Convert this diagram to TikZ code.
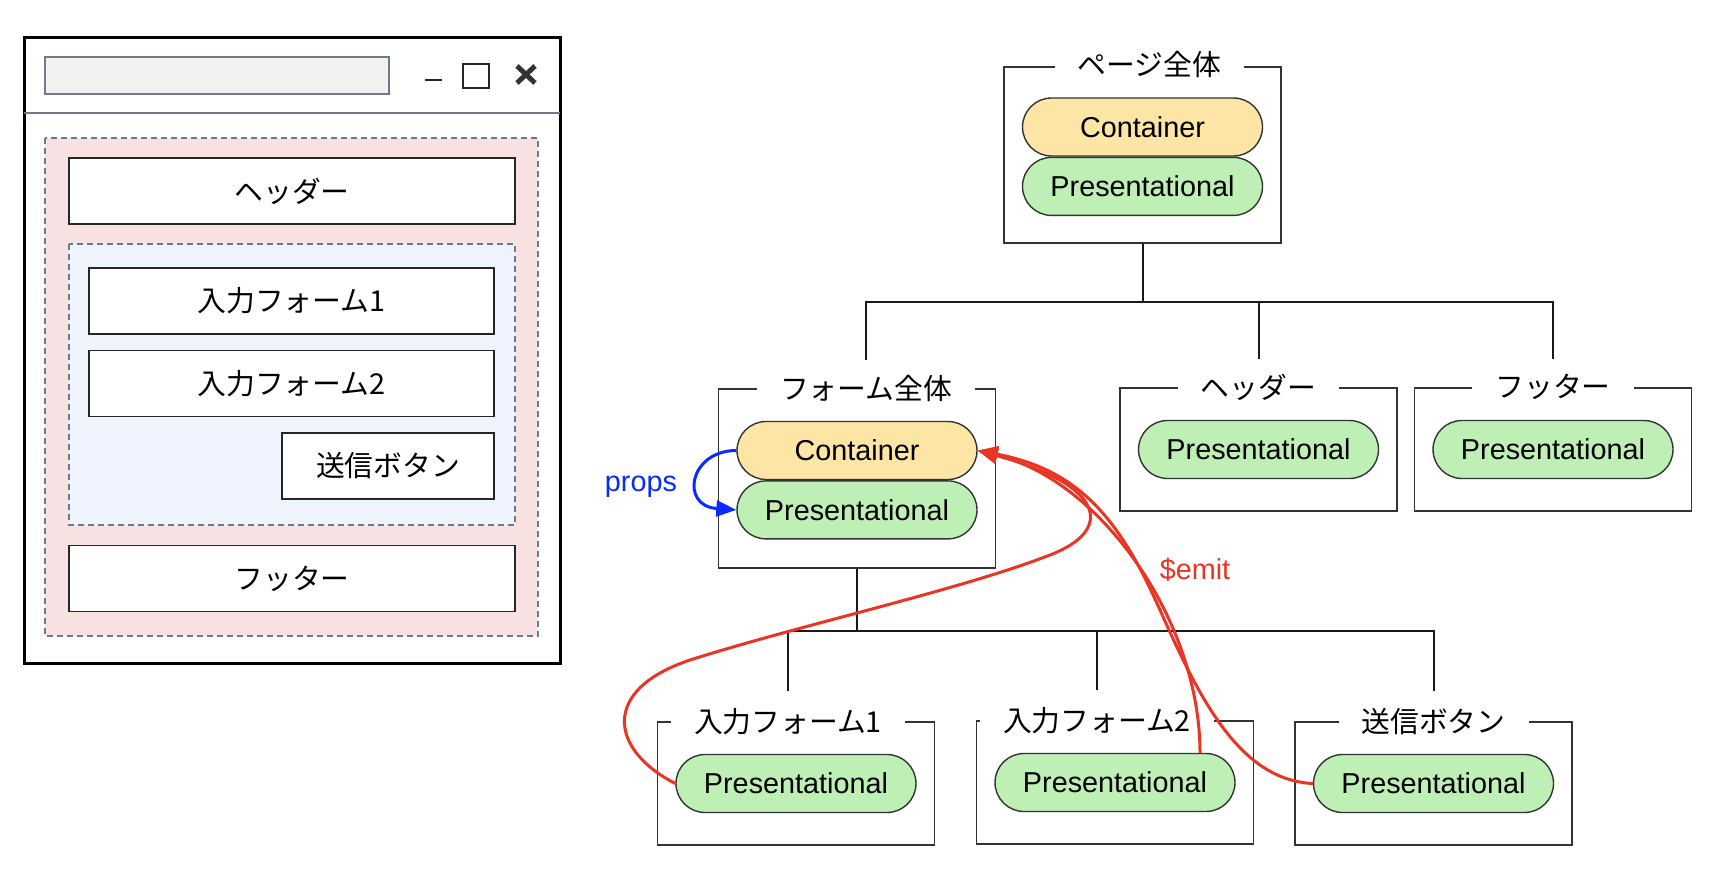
\documentclass[tikz,border=0pt]{standalone}
\usepackage{fontspec}
\setmainfont{Liberation Sans}
\newfontfamily\jp{Noto Sans CJK JP}
\usetikzlibrary{positioning,shapes.misc,arrows.meta}
\definecolor{contfill}{HTML}{FCE5A5}
\definecolor{presfill}{HTML}{BEF0B5}
\definecolor{pinkbg}{HTML}{F8E1E1}
\definecolor{bluebg}{HTML}{EEF3FD}
\definecolor{dashgray}{HTML}{6C7A89}
\definecolor{titlefill}{HTML}{F2F2F2}
\definecolor{emitred}{HTML}{EA3424}
\definecolor{propsblue}{HTML}{0A2BFF}
\begin{document}
\begin{tikzpicture}[x=0.5pt,y=-0.5pt,
    font=\fontsize{14.4}{17}\selectfont,
    grp/.style={draw=black!80, line width=0.7pt, minimum width=138.5pt, minimum height=61.5pt, inner sep=0pt},
    grplbl/.style={fill=white, inner xsep=11.5pt, inner ysep=1pt, font=\fontsize{14.4}{17}\selectfont\jp},
    pill/.style={rounded rectangle, draw=black!80, line width=0.7pt, minimum width=120pt, minimum height=29pt, inner sep=0pt},
    cont/.style={pill, fill=contfill},
    pres/.style={pill, fill=presfill},
    winbox/.style={draw=black!85, line width=0.8pt, fill=white, minimum height=33pt, inner sep=0pt, font=\fontsize{14.4}{17}\selectfont\jp},
    area/.style={draw=dashgray, dash pattern=on 3pt off 2pt, line width=0.7pt},
    tree/.style={line width=1pt, black!90},
    emit/.style={line width=1.5pt, emitred, -{Triangle[length=10pt,width=8pt]}},
    props/.style={line width=1.5pt, propsblue, -{Triangle[length=10pt,width=8pt]}}]

    \useasboundingbox (0,0) rectangle (1718,888);

    %window
    \draw[line width=1.5pt] (24,38) rectangle (560,663);
    \draw[dashgray, line width=0.7pt] (24,113) -- (560,113);
    \draw[draw=dashgray, fill=titlefill, line width=0.8pt] (45,57) rectangle (389,94);
    \draw[line width=1.4pt, black!85] (425,80) -- (442,80);
    \draw[line width=0.8pt, black!85] (463,64) rectangle (489,88);
    \draw[line width=2.5pt, black!80] (517,66) -- (535,83) (517,83) -- (535,66);
    \draw[area, fill=pinkbg] (45,138) rectangle (538,636);
    \draw[area, fill=bluebg] (69,244) rectangle (515,525);
    \node[winbox, minimum width=223pt] (wheader) at (292,191) {ヘッダー};
    \node[winbox, minimum width=202.5pt] (wform1) at (291.5,301) {入力フォーム1};
    \node[winbox, minimum width=202.5pt] (wform2) at (291.5,383.5) {入力フォーム2};
    \node[winbox, minimum width=106pt] (wsubmit) at (388,466) {送信ボタン};
    \node[winbox, minimum width=223pt] (wfooter) at (292,578.5) {フッター};

    %groups
    \node[grp, minimum height=88pt] (page) at (1142.5,155) {};
    \node[grp, minimum height=89.5pt] (formall) at (857,478.5) {};
    \node[grp] (header) at (1258.5,449.5) {};
    \node[grp] (footer) at (1553,449.5) {};
    \node[grp] (form1) at (796,783.5) {};
    \node[grp] (form2) at (1115,782.5) {};
    \node[grp] (submit) at (1433.5,783.5) {};

    \node[grplbl] (pagel) at ([xshift=3.5pt,yshift=1pt]page.north) {ページ全体};
    \node[grplbl] (formalll) at ([xshift=4.5pt]formall.north) {フォーム全体};
    \node[grplbl] (headerl) at (header.north) {ヘッダー};
    \node[grplbl] (footerl) at (footer.north) {フッター};
    \node[grplbl] (form1l) at ([xshift=-4pt]form1.north) {入力フォーム1};
    \node[grplbl] (form2l) at ([xshift=-9pt]form2.north) {入力フォーム2};
    \node[grplbl] (submitl) at (submit.north) {送信ボタン};

    %components
    \node[cont] (pagec) at ([yshift=14pt]page.center) {Container};
    \node[pres, below=0pt of pagec] (pagep) {Presentational};
    \node[cont] (formc) at ([yshift=14pt]formall.center) {Container};
    \node[pres, below=0pt of formc] (formp) {Presentational};
    \node[pres] (headerp) at (header.center) {Presentational};
    \node[pres] (footerp) at (footer.center) {Presentational};
    \node[pres] (form1p) at (form1.center) {Presentational};
    \node[pres] (form2p) at (form2.center) {Presentational};
    \node[pres] (submitp) at (submit.center) {Presentational};

    %tree
    \coordinate (pagej) at ([yshift=-29pt]page.south);
    \draw[tree] (page.south) -- (pagej);
    \foreach \n in {formalll,headerl,footerl} {
        \draw[tree] (pagej) -| ([yshift=14pt]\n.center);
    }
    \coordinate (formj) at ([yshift=-31pt]formall.south);
    \draw[tree] (formall.south) -- (formj);
    \foreach \n in {form1l,form2l,submitl} {
        \draw[tree] (formj) -| ([yshift=15pt]\n.center);
    }

    %props / $emit
    \draw[props] (formc.west) .. controls +(-47,0) and +(-57,-4) .. (formp.west);
    \node[text=propsblue] (propsl) at (641,487) {props};

    \draw[emit] (form1p.west) .. controls (610,750) and (600,690) .. (690,660)
        .. controls (800,625) and (960,590) .. (1050,555)
        .. controls (1115,530) and (1105,485) .. (formc.east);
    \draw[emit] ([xshift=42.5pt]form2p.north) .. controls (1200,620) and (1100,480) .. (formc.east);
    \draw[emit] (submitp.west) .. controls (1240,780) and (1200,700) .. (1160,610)
        .. controls (1120,520) and (1080,470) .. (formc.east);
    \node[text=emitred] (emitl) at (1195,570) {\$emit};

\end{tikzpicture}
\end{document}
